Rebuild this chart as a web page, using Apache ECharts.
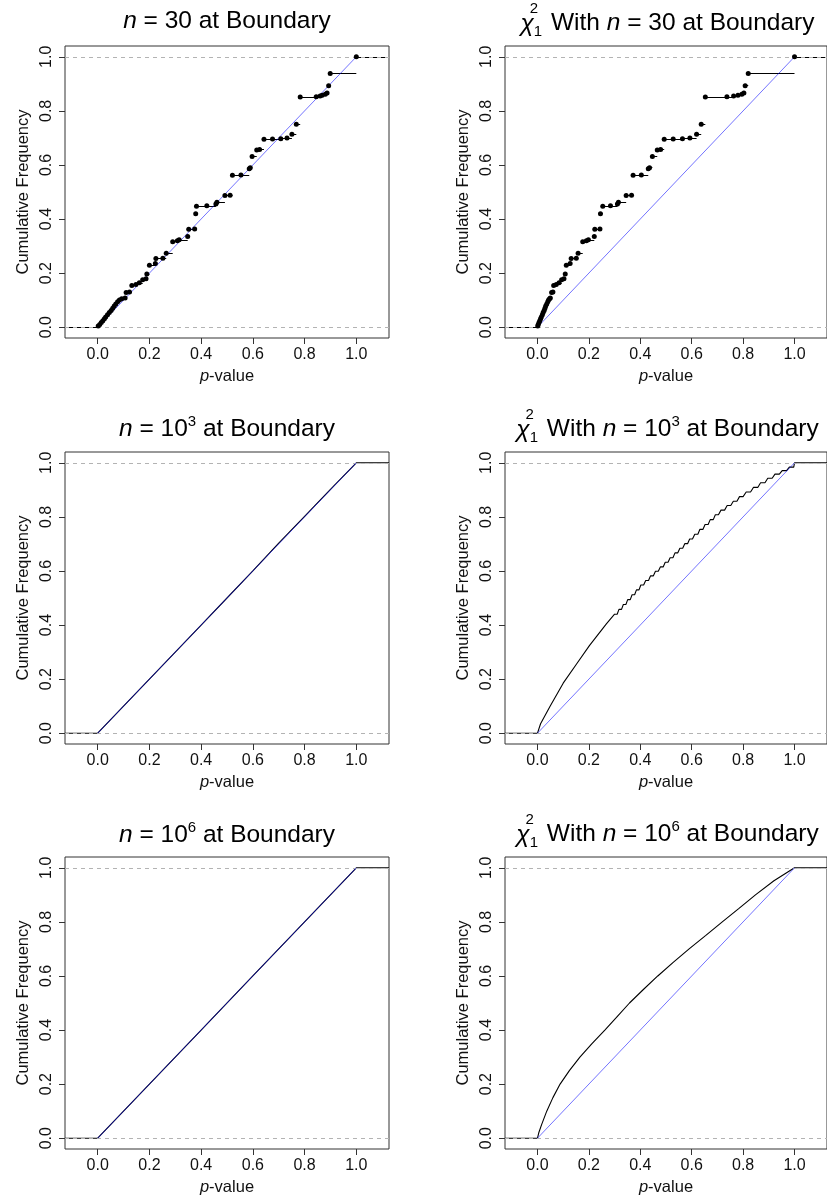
<!DOCTYPE html>
<html><head><meta charset="utf-8">
<script src="https://cdn.jsdelivr.net/npm/echarts@6/dist/echarts.min.js"></script>
<style>html,body{margin:0;padding:0;background:#fff}#c{width:827px;height:1201px}</style>
</head><body><div id="c"></div><script>
const FONT = '"Liberation Sans", Arial, Helvetica, sans-serif';
const xTicks = [0, 0.2, 0.4, 0.6, 0.8, 1.0];
const yTicks = [0, 0.2, 0.4, 0.6, 0.8, 1.0];
const xRange = [-0.1264, 1.1264];
const yRange = [-0.04, 1.04];
const refLevels = [0, 1];
const diagonal = [[0, 0], [1, 1]];

// ECDF heights shared by the two n = 30 panels
const ecdfHeightsN30 = [0.004,0.010,0.017,0.024,0.031,0.038,0.046,0.054,0.062,0.070,0.078,0.086,0.094,0.101,0.105,0.108,0.128,0.130,0.154,0.158,0.164,0.175,0.179,0.197,0.229,0.236,0.254,0.255,0.273,0.316,0.320,0.323,0.335,0.362,0.363,0.420,0.447,0.449,0.456,0.462,0.487,0.488,0.562,0.563,0.586,0.590,0.631,0.655,0.657,0.695,0.696,0.697,0.700,0.714,0.751,0.851,0.852,0.855,0.858,0.862,0.866,0.893,0.938,1.000];
// knot p-values, n = 30 at boundary
const knotsN30 = [0.002,0.008,0.014,0.020,0.026,0.031,0.038,0.045,0.052,0.058,0.064,0.070,0.077,0.084,0.093,0.106,0.110,0.123,0.132,0.148,0.161,0.174,0.187,0.190,0.200,0.223,0.225,0.252,0.265,0.290,0.308,0.315,0.348,0.352,0.375,0.379,0.382,0.422,0.457,0.461,0.492,0.512,0.521,0.554,0.586,0.590,0.597,0.615,0.626,0.643,0.676,0.708,0.732,0.751,0.768,0.783,0.845,0.860,0.868,0.880,0.887,0.893,0.899,1.000];
// knot p-values, chi^2_1 with n = 30 at boundary
const knotsChiN30 = [0.001,0.003,0.006,0.009,0.012,0.015,0.019,0.022,0.026,0.029,0.032,0.036,0.040,0.043,0.047,0.050,0.055,0.060,0.063,0.073,0.084,0.094,0.103,0.108,0.112,0.127,0.131,0.151,0.158,0.176,0.190,0.198,0.221,0.223,0.243,0.245,0.254,0.284,0.311,0.315,0.345,0.366,0.372,0.404,0.431,0.436,0.447,0.466,0.479,0.493,0.528,0.564,0.593,0.619,0.637,0.653,0.737,0.763,0.780,0.795,0.803,0.808,0.820,1.000];

// cumulative frequency curves: [p-value, F]
const curveN1e3 = [[0,0],[0.1,0.1],[0.2,0.2],[0.3,0.3],[0.4,0.4],[0.5,0.5],[0.6,0.6],[0.7,0.703],[0.8,0.802],[0.9,0.902],[1,1]];
// chi^2_1, n = 10^3: smooth lower part, then stair corners (tread start, tread end)
const curveChiN1e3 = [[0,0],[0.012,0.035],[0.049,0.10],[0.10,0.185],[0.152,0.256],[0.202,0.324],[0.268,0.404],
  [0.300,0.440],[0.310,0.440],[0.317,0.458],[0.327,0.458],[0.334,0.476],[0.344,0.476],[0.351,0.494],[0.361,0.494],
  [0.368,0.512],[0.378,0.512],[0.385,0.530],[0.395,0.530],[0.402,0.548],[0.413,0.548],[0.421,0.565],[0.432,0.565],
  [0.440,0.582],[0.451,0.582],[0.459,0.599],[0.470,0.599],[0.478,0.615],[0.489,0.615],[0.497,0.632],[0.508,0.632],
  [0.516,0.649],[0.527,0.649],[0.535,0.667],[0.546,0.667],[0.554,0.684],[0.565,0.684],[0.573,0.701],[0.584,0.701],
  [0.592,0.718],[0.603,0.718],[0.612,0.736],[0.624,0.736],[0.632,0.754],[0.644,0.754],[0.652,0.772],[0.664,0.772],
  [0.672,0.790],[0.684,0.790],[0.692,0.808],[0.704,0.808],[0.714,0.825],[0.728,0.825],[0.738,0.842],[0.752,0.842],
  [0.762,0.858],[0.776,0.858],[0.786,0.875],[0.800,0.875],[0.812,0.892],[0.829,0.892],[0.840,0.909],[0.857,0.909],
  [0.868,0.926],[0.885,0.926],[0.896,0.943],[0.913,0.943],[0.924,0.958],[0.941,0.958],[0.952,0.971],[0.969,0.971],
  [0.980,0.984],[0.997,0.984],[1,1]];
const curveN1e6 = [[0,0],[0.2,0.2],[0.4,0.4],[0.6,0.6],[0.8,0.8],[1,1]];
const curveChiN1e6 = [[0,0],[0.005,0.02],[0.016,0.05],[0.036,0.1],[0.06,0.15],[0.088,0.2],[0.124,0.25],[0.165,0.3],[0.212,0.35],[0.262,0.4],[0.31,0.45],[0.358,0.5],[0.412,0.55],[0.468,0.6],[0.528,0.65],[0.59,0.7],[0.655,0.75],[0.719,0.8],[0.784,0.85],[0.848,0.9],[0.92,0.952],[1,1]];

const titleNs = ['30', '3', '6'];

const colLeft = [65, 505];
const colWidth = [324, 325];
const rowTop = [46, 452, 857];
const rowHeight = 292;
const titleY = [[21, 23], [429, 429], [835.5, 834.5]];

const panels = [
  {row:0,col:0,kind:'step',knots:knotsN30,h:ecdfHeightsN30,chi:false},
  {row:0,col:1,kind:'step',knots:knotsChiN30,h:ecdfHeightsN30,chi:true},
  {row:1,col:0,kind:'curve',curve:curveN1e3,chi:false},
  {row:1,col:1,kind:'curve',curve:curveChiN1e3,chi:true},
  {row:2,col:0,kind:'curve',curve:curveN1e6,chi:false},
  {row:2,col:1,kind:'curve',curve:curveChiN1e6,chi:true}
];

const grids = [], xAxes = [], yAxes = [], series = [], graphics = [];
const fmt = v => v.toFixed(1);
const TS = 24.5;
const baseRich = {
  r:{fontFamily:FONT,fontSize:TS,color:'#000',lineHeight:30},
  it:{fontFamily:FONT,fontSize:TS,fontStyle:'italic',color:'#000',lineHeight:30},
  sup:{fontFamily:FONT,fontSize:15,color:'#000',lineHeight:15,verticalAlign:'top'}
};
const chiRich = {
  r:{fontFamily:FONT,fontSize:TS,color:'#000',lineHeight:44},
  it:{fontFamily:FONT,fontSize:TS,fontStyle:'italic',color:'#000',lineHeight:44},
  chi:{fontFamily:FONT,fontSize:TS,fontStyle:'italic',color:'#000',lineHeight:44,verticalAlign:'middle',padding:[2,0,0,0]},
  sup:{fontFamily:FONT,fontSize:15,color:'#000',lineHeight:15,verticalAlign:'top',padding:[7,0,0,0]},
  c2:{fontFamily:FONT,fontSize:15,color:'#000',lineHeight:15,verticalAlign:'top',width:0},
  c1:{fontFamily:FONT,fontSize:15,color:'#000',lineHeight:15,verticalAlign:'bottom',padding:[0,2,6,0]}
};

panels.forEach((p, i) => {
  grids.push({left: colLeft[p.col], top: rowTop[p.row], width: colWidth[p.col], height: rowHeight,
    show: true, borderColor: '#333', borderWidth: 1, backgroundColor: 'transparent', containLabel: false});
  xAxes.push({type:'value', gridIndex:i, min:xRange[0], max:xRange[1], position:'bottom',
    axisLine:{show:false, onZero:false}, splitLine:{show:false},
    axisTick:{show:true, customValues:xTicks, length:6, inside:false, lineStyle:{color:'#333', width:1}},
    axisLabel:{customValues:xTicks, formatter:fmt, fontSize:16, color:'#111', fontFamily:FONT, margin:9},
    name:'{i|p}{r|-value}', nameLocation:'middle', nameGap:30,
    nameTextStyle:{fontSize:16.5, color:'#111', fontFamily:FONT,
      rich:{i:{fontStyle:'italic',fontSize:16.5,fontFamily:FONT,color:'#111'}, r:{fontSize:16.5,fontFamily:FONT,color:'#111'}}}
  });
  yAxes.push({type:'value', gridIndex:i, min:yRange[0], max:yRange[1], position:'left',
    axisLine:{show:false, onZero:false}, splitLine:{show:false},
    axisTick:{show:true, customValues:yTicks, length:6, inside:false, lineStyle:{color:'#333', width:1}},
    axisLabel:{customValues:yTicks, formatter:fmt, fontSize:16, color:'#111', fontFamily:FONT, margin:10, rotate:90},
    name:'Cumulative Frequency', nameLocation:'middle', nameGap:33,
    nameTextStyle:{fontSize:16.5, color:'#111', fontFamily:FONT}
  });

  if (p.kind === 'step') {
    const n = p.knots.length;
    const segs = [];
    segs.push({coords:[[xRange[0], 0], [p.knots[0], 0]]});
    for (let k = 0; k < n; k++) {
      const x2 = k < n - 1 ? p.knots[k + 1] : xRange[1];
      segs.push({coords:[[p.knots[k], p.h[k]], [x2, p.h[k]]]});
    }
    series.push({type:'lines', coordinateSystem:'cartesian2d', xAxisIndex:i, yAxisIndex:i, polyline:false,
      silent:true, z:2, lineStyle:{color:'#000', width:1, opacity:1}, data:segs});
  } else {
    const d = [[xRange[0], 0]].concat(p.curve, [[xRange[1], 1]]);
    series.push({type:'line', xAxisIndex:i, yAxisIndex:i, data:d, showSymbol:false, silent:true, z:2,
      smooth:false, lineStyle:{color:'#000', width:1.1}});
  }
  // reference dashed lines at 0 and 1
  series.push({type:'line', xAxisIndex:i, yAxisIndex:i, data:[], z:3, silent:true,
    markLine:{silent:true, symbol:['none','none'], label:{show:false}, z:3,
      lineStyle:{color:'#b3b3b3', type:[4,4], width:1},
      data: refLevels.map(v => ({yAxis:v}))}});
  // uniform reference line
  series.push({type:'line', xAxisIndex:i, yAxisIndex:i, data:diagonal, showSymbol:false, silent:true, z:4,
    lineStyle:{color:'rgba(0,0,255,0.55)', width:1}});
  if (p.kind === 'step') {
    series.push({type:'scatter', xAxisIndex:i, yAxisIndex:i, z:5, silent:true, symbol:'circle', symbolSize:5,
      itemStyle:{color:'#000', opacity:1}, data:p.knots.map((x, k) => [x, p.h[k]])});
  }

  const cx = colLeft[p.col] + colWidth[p.col] / 2;
  const nTxt = p.row === 0 ? '{r| = 30 at Boundary}' : '{r| = 10}{sup|' + titleNs[p.row] + '}{r| at Boundary}';
  const text = p.chi ? '{chi|χ}{c2|2}{c1|1}{r| With }{it|n}' + nTxt : '{it|n}' + nTxt;
  graphics.push({type:'text', x:cx, y:titleY[p.row][p.col], silent:true,
    style:{text:text, align:'center', verticalAlign:'middle', rich: p.chi ? chiRich : baseRich,
      fontFamily:FONT, fontSize:TS, fill:'#000'}});
});

const chart = echarts.init(document.getElementById('c'), null, {renderer:'canvas'});
chart.setOption({animation:false, backgroundColor:'#fff', grid:grids, xAxis:xAxes, yAxis:yAxes, series:series, graphic:graphics});
</script></body></html>
